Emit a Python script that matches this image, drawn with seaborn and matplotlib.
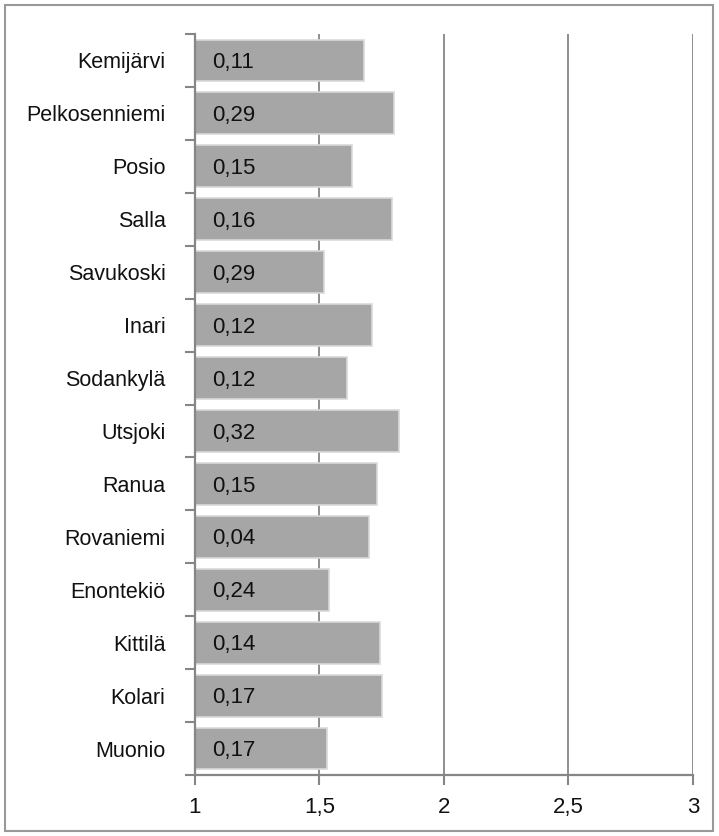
import matplotlib
matplotlib.use('Agg')
import matplotlib.pyplot as plt
import seaborn as sns
from matplotlib.patches import Rectangle
from matplotlib.ticker import MultipleLocator, FuncFormatter

# === Datos ===
kunnat = ['Kemijärvi', 'Pelkosenniemi', 'Posio', 'Salla', 'Savukoski', 'Inari',
          'Sodankylä', 'Utsjoki', 'Ranua', 'Rovaniemi', 'Enontekiö', 'Kittilä',
          'Kolari', 'Muonio']
arvot = [1.68, 1.80, 1.63, 1.79, 1.52, 1.71, 1.61, 1.82, 1.73, 1.70, 1.54, 1.745,
         1.75, 1.53]
tekstit = ['0,11', '0,29', '0,15', '0,16', '0,29', '0,12', '0,12', '0,32', '0,15',
           '0,04', '0,24', '0,14', '0,17', '0,17']

sns.set_style('white')
plt.rcParams['font.family'] = ['Liberation Sans', 'DejaVu Sans']

fig = plt.figure(figsize=(7.19, 8.36), dpi=100)
ax = fig.add_axes([194.7 / 719, 61 / 836, (693 - 194.7) / 719, (775 - 34) / 836])

sns.barplot(x=arvot, y=kunnat, orient='h', color='#a6a6a6', saturation=1,
            width=0.79, edgecolor='#d9d9d9', linewidth=1.2, ax=ax, zorder=2)

harmaa = '#868686'
ax.set_xlim(1, 3)
ax.set_ylim(len(kunnat) - 0.5, -0.5)
ax.xaxis.set_major_locator(MultipleLocator(0.5))
ax.xaxis.set_major_formatter(FuncFormatter(lambda v, p: f'{v:g}'.replace('.', ',')))
ax.grid(axis='x', color=harmaa, linewidth=1.3, zorder=1)
ax.set_axisbelow(True)

for side in ['top', 'right']:
    ax.spines[side].set_visible(False)
for side in ['left', 'bottom']:
    ax.spines[side].set_color(harmaa)
    ax.spines[side].set_linewidth(1.6)

# y-akselin merkit kategorioiden välissä
ax.set_yticks([i - 0.5 for i in range(len(kunnat) + 1)], minor=True)
ax.tick_params(axis='y', which='minor', length=7, width=1.5, color=harmaa, direction='out', left=True)
ax.tick_params(axis='y', which='major', length=0, pad=21, labelsize=15.5, labelcolor='#111111')
ax.tick_params(axis='x', which='major', length=7, width=1.5, color=harmaa, direction='out',
               bottom=True, pad=9, labelsize=16, labelcolor='#111111')
ax.set_xlabel('')
ax.set_ylabel('')

for i, t in enumerate(tekstit):
    ax.text(1.07, i + 0.04, t, va='center', ha='left', fontsize=16, color='#111111', zorder=3)

fig.patches.append(Rectangle((5 / 719, 5 / 836), 708 / 719, 826 / 836, transform=fig.transFigure,
                             fill=False, edgecolor='#999999', linewidth=1.5))

plt.savefig('out.png', dpi=100)
